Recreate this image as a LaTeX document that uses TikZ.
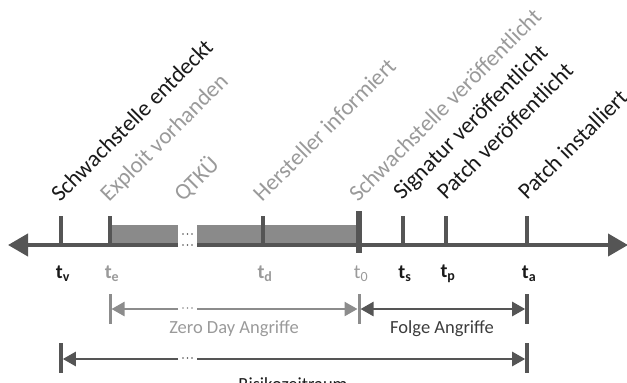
\documentclass[tikz,border=0pt]{standalone}
\usepackage{fontspec}
\setmainfont{Carlito}
\usetikzlibrary{arrows.meta}
\definecolor{dk}{HTML}{555555}
\definecolor{lg}{HTML}{8C8C8C}
\definecolor{boxc}{HTML}{8A8A8A}
\definecolor{txt}{HTML}{1A1A1A}
\definecolor{gtxt}{HTML}{9A9A9A}
\tikzset{
  axisline/.style={draw=dk, line width=4pt},
  bigtip/.style={-{Triangle[length=20pt,width=22pt]}},
  smalltip/.style={-{Triangle[length=13pt,width=14pt]}},
  tick/.style={draw=dk, line width=3.5pt},
  rlab/.style={rotate=45, anchor=base west, inner sep=0pt, font=\fontsize{23}{27}\selectfont},
  tlab/.style={inner sep=0pt, font=\fontsize{20}{24}\selectfont},
  mlab/.style={inner sep=0pt, font=\fontsize{18.5}{22}\selectfont},
  dotc/.style={circle, fill, inner sep=0pt, minimum size=1.8pt},
}
\begin{document}
\begin{tikzpicture}[x=1pt,y=-1pt]
\useasboundingbox (0,0) rectangle (627,383);
% coordinates
\coordinate (gl) at (178,245);
\coordinate (gr) at (197,245);
\coordinate (L) at (8,245);
\coordinate (R) at (628,245);
% gray box
\fill[boxc] (110,225) rectangle (178,245);
\fill[boxc] (197,225) rectangle (359,245);
% axis
\draw[axisline, bigtip] (gl) -- (L);
\draw[axisline, bigtip] (gr) -- (R);
% gap dots
\foreach \x in {183,187.5,192} {
  \node[dotc, dk] at (\x,234) {};
  \node[dotc, dk] at (\x,245) {};
}
% ticks
\foreach \x/\n in {61/v,110/e,263/d,403/s,446/p,527/a} {
  \coordinate (top\n) at (\x,216);
  \coordinate (bot\n) at (\x,245);
  \draw[tick] (top\n) -- (bot\n);
}
\coordinate (top0) at (359,211);
\coordinate (bot0) at (359,253);
\draw[draw=dk, line width=6.5pt] (top0) -- (bot0);
% rotated labels
\node[rlab, txt] (l1) at (60,203) {Schwachstelle entdeckt};
\node[rlab, gtxt] (l2) at (109,203) {Exploit vorhanden};
\node[rlab, gtxt] (l3) at (183,203) {QTKÜ};
\node[rlab, gtxt] (l4) at (262,203) {Hersteller informiert};
\node[rlab, gtxt] (l5) at (358,203) {Schwachstelle veröffentlicht};
\node[rlab, txt] (l6) at (402,201) {Signatur veröffentlicht};
\node[rlab, txt] (l7) at (446,201) {Patch veröffentlicht};
\node[rlab, txt] (l8) at (527,201) {Patch installiert};
% time labels
\node[tlab, txt] (tv) at (63,274) {\textbf{t}\textsubscript{\textbf{v}}};
\node[tlab, gtxt] (te) at (112,274) {\textbf{t}\textsubscript{\textbf{e}}};
\node[tlab, gtxt] (td) at (265,274) {\textbf{t}\textsubscript{\textbf{d}}};
\node[tlab, gtxt] (t0) at (361,274) {t\textsubscript{0}};
\node[tlab, txt] (ts) at (405,274) {\textbf{t}\textsubscript{\textbf{s}}};
\node[tlab, txt] (tp) at (448,274) {\textbf{t}\textsubscript{\textbf{p}}};
\node[tlab, txt] (ta) at (529,274) {\textbf{t}\textsubscript{\textbf{a}}};
% zero day
\coordinate (zeT) at (110,294); \coordinate (zeB) at (110,324);
\coordinate (z0T) at (359,294); \coordinate (z0B) at (359,324);
\draw[draw=lg, line width=3pt] (zeT) -- (zeB);
\draw[draw=lg, line width=3pt] (z0T) -- (z0B);
\coordinate (zl) at (178,309); \coordinate (zr) at (197,309);
\coordinate (zle) at (111.5,309); \coordinate (zre) at (357.5,309);
\draw[draw=lg, line width=2.5pt, smalltip] (zl) -- (zle);
\draw[draw=lg, line width=2.5pt, smalltip] (zr) -- (zre);
\foreach \x in {183,187.5,192} \node[dotc, lg] at (\x,308) {};
\node[mlab, gtxt] (zlab) at (234,329) {Zero Day Angriffe};
% folge
\coordinate (faT) at (527,294); \coordinate (faB) at (527,324);
\draw[tick] (faT) -- (faB);
\coordinate (fl) at (360.5,309); \coordinate (fr) at (525.2,309);
\draw[draw=dk, line width=2.5pt, {Triangle[length=13pt,width=14pt]}-{Triangle[length=13pt,width=14pt]}] (fl) -- (fr);
\node[mlab, txt!85] (flab) at (442,329) {Folge Angriffe};
% risiko
\coordinate (rvT) at (61,343); \coordinate (rvB) at (61,373);
\coordinate (raT) at (527,343); \coordinate (raB) at (527,373);
\draw[tick] (rvT) -- (rvB);
\draw[tick] (raT) -- (raB);
\coordinate (rl) at (178,359); \coordinate (rr) at (197,359);
\coordinate (rle) at (62.8,359); \coordinate (rre) at (525.2,359);
\draw[draw=dk, line width=2.5pt, smalltip] (rl) -- (rle);
\draw[draw=dk, line width=2.5pt, smalltip] (rr) -- (rre);
\foreach \x in {183,187.5,192} \node[dotc, dk] at (\x,358) {};
\node[mlab, txt, anchor=base] (rlab) at (293,390) {Risikozeitraum};
\end{tikzpicture}
\end{document}
